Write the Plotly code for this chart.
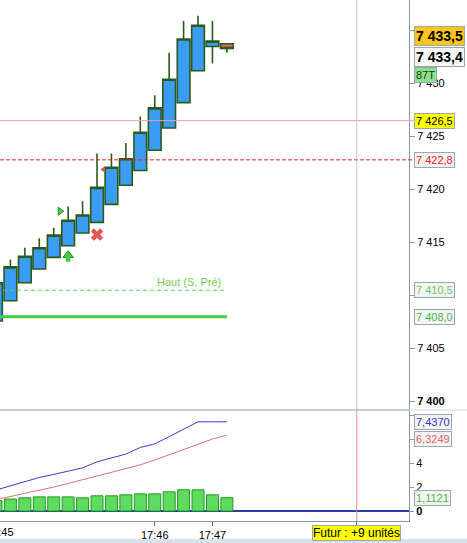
import plotly.graph_objects as go

# ---------------- data ----------------
idx = list(range(17))
opens  = [7407.6, 7409.5, 7411.2, 7412.5, 7413.6, 7414.7, 7415.9, 7416.9, 7418.6, 7420.4, 7421.8, 7423.7, 7425.8, 7428.2, 7431.2, 7433.5, 7433.75]
highs  = [7412.2, 7413.4, 7414.5, 7415.4, 7416.4, 7418.4, 7418.9, 7423.4, 7423.4, 7424.4, 7426.9, 7428.9, 7432.9, 7435.9, 7436.4, 7435.9, 7433.75]
lows   = [7407.6, 7409.5, 7411.2, 7412.5, 7413.6, 7414.7, 7415.9, 7416.9, 7418.6, 7420.4, 7421.8, 7423.7, 7425.8, 7428.2, 7431.2, 7431.9, 7432.9]
closes = [7411.2, 7412.7, 7413.7, 7414.5, 7415.7, 7417.1, 7417.6, 7420.2, 7422.1, 7422.9, 7425.4, 7427.7, 7430.4, 7434.2, 7435.5, 7434.0, 7433.3]

volume     = [0.88, 1.0, 1.1, 1.18, 1.18, 1.18, 1.1, 1.27, 1.27, 1.35, 1.43, 1.43, 1.6, 1.77, 1.77, 1.35, 1.1121]
line_blue  = [1.75, 2.1, 2.5, 2.8, 3.05, 3.35, 3.6, 4.1, 4.4, 4.75, 5.3, 5.6, 6.2, 6.8, 7.437, 7.437, 7.437]
line_red   = [0.95, 1.2, 1.45, 1.75, 2.0, 2.3, 2.6, 2.9, 3.2, 3.5, 3.85, 4.25, 4.7, 5.15, 5.6, 6.0, 6.3249]

time_tick_idx = [11, 15]
time_tick_labels = ["17:46", "17:47"]
first_time_idx = 0
first_time_label = "17:45"
future_idx = 25
future_label = "Futur : +9 unités"

price_ticks = [7400, 7405, 7410, 7415, 7420, 7425, 7430, 7435]
price_tick_text = ["<b>7 400</b>", "7 405", "", "7 415", "7 420", "7 425", "7 430", ""]
ind_ticks = [0, 2, 4, 6, 8]
ind_tick_text = ["<b>0</b>", "2", "4", "", ""]

level_start_idx = 0
level_end_idx = 16
level_high_prev = 7410.5
level_high_prev_label = "Haut (S, Pré)"
level_support = 7408.0
level_pink = 7426.5
level_red = 7422.8
ask_price = 7433.5
bid_price = 7433.4
bar_type_label = "87T"

sig_tri_x, sig_tri_y = [4.44], [7417.95]
sig_arrow_x, sig_arrow_y = [5], [7413.8]
sig_x_x, sig_x_y = [7], [7415.75]
sig_red_tri_x, sig_red_tri_y = [7.45], [7421.9]

x_range = [0.277, 28.62]
price_range = [7399.2, 7437.88]
ind_range = [-0.83, 8.42]

FONT = "Liberation Sans, Arial, sans-serif"
AX = "#8899a6"
split = 111 / 521

def x_to_paper(v):
    return (v - x_range[0]) / (x_range[1] - x_range[0])

fig = go.Figure()

fig.add_trace(go.Candlestick(
    x=idx, open=opens, high=highs, low=lows, close=closes,
    xaxis="x", yaxis="y", whiskerwidth=0, hoverinfo="skip", showlegend=False,
    increasing=dict(fillcolor="#3a9cf2", line=dict(color="#2b5a1e", width=1.6)),
    decreasing=dict(fillcolor="#e06666", line=dict(color="#2b5a1e", width=1.6)),
))

# level lines
fig.add_trace(go.Scatter(x=[level_start_idx, level_end_idx], y=[level_high_prev] * 2, mode="lines",
                         line=dict(color="#66cc66", width=1, dash="4px,3px"), xaxis="x", yaxis="y",
                         showlegend=False, hoverinfo="skip"))
fig.add_trace(go.Scatter(x=[level_start_idx, level_end_idx], y=[level_support] * 2, mode="lines",
                         line=dict(color="#44cc44", width=3), xaxis="x", yaxis="y",
                         showlegend=False, hoverinfo="skip"))

# signals
fig.add_trace(go.Scatter(x=sig_tri_x, y=sig_tri_y, mode="markers",
                         marker=dict(symbol="triangle-right", size=7, color="#44dd44",
                                     line=dict(color="#118811", width=1)),
                         xaxis="x", yaxis="y", showlegend=False, hoverinfo="skip"))
fig.add_trace(go.Scatter(x=sig_arrow_x, y=sig_arrow_y, mode="markers",
                         marker=dict(symbol="triangle-up", size=9, color="#44cc44",
                                     line=dict(color="#1f8f1f", width=1)),
                         xaxis="x", yaxis="y", showlegend=False, hoverinfo="skip"))
fig.add_trace(go.Scatter(x=sig_x_x, y=sig_x_y, mode="markers",
                         marker=dict(symbol="x", size=11, color="#e85555", line=dict(width=0)),
                         xaxis="x", yaxis="y", showlegend=False, hoverinfo="skip"))
fig.add_trace(go.Scatter(x=sig_red_tri_x, y=sig_red_tri_y, mode="markers",
                         marker=dict(symbol="triangle-left", size=6, color="#e05050"),
                         xaxis="x", yaxis="y", showlegend=False, hoverinfo="skip"))

# lower panel
fig.add_trace(go.Bar(x=idx, y=volume, xaxis="x2", yaxis="y2",
                     marker=dict(color="#5fdc5f", line=dict(color="#1f9a1f", width=1)),
                     showlegend=False, hoverinfo="skip"))
fig.add_trace(go.Scatter(x=idx, y=line_blue, mode="lines", line=dict(color="#3b3bdd", width=1),
                         xaxis="x2", yaxis="y2", showlegend=False, hoverinfo="skip"))
fig.add_trace(go.Scatter(x=idx, y=line_red, mode="lines", line=dict(color="#e07070", width=1),
                         xaxis="x2", yaxis="y2", showlegend=False, hoverinfo="skip"))

shapes = [
    dict(type="line", xref="paper", yref="paper", x0=0, x1=1, y0=split, y1=split,
         line=dict(color=AX, width=1)),
    dict(type="line", xref="paper", yref="paper", x0=1, x1=1.15, y0=split, y1=split,
         line=dict(color="#d4dae0", width=1)),
    dict(type="line", xref="paper", yref="y", x0=0, x1=1.012, y0=level_pink, y1=level_pink,
         line=dict(color="#f2a0a0", width=1)),
    dict(type="line", xref="paper", yref="y", x0=0, x1=1.012, y0=level_red, y1=level_red,
         line=dict(color="#e82020", width=1, dash="4px,2px")),
    dict(type="line", xref="x", yref="paper", x0=future_idx, x1=future_idx, y0=split, y1=1,
         line=dict(color="#c8c8c8", width=1)),
    dict(type="line", xref="x2", yref="paper", x0=future_idx, x1=future_idx, y0=0, y1=split,
         line=dict(color="#f08888", width=1)),
    dict(type="rect", xref="paper", yref="paper", x0=0, x1=1.15, y0=-0.0425, y1=-0.0345,
         fillcolor="#d9e1ea", line=dict(width=0)),
]

def tag(y, text, color, bg, yref="y", size=11, yshift=0, bold=False):
    return dict(x=1, xref="paper", y=y, yref=yref, xanchor="left", yanchor="middle",
                xshift=5, yshift=yshift, text=("<b>%s</b>" % text) if bold else text,
                showarrow=False, font=dict(family=FONT, size=size, color=color),
                bgcolor=bg, bordercolor="#9aa6b0", borderwidth=1, borderpad=1, align="left")

def fmt_price(v):
    s = "%.1f" % v
    a, b = s.split(".")
    return a[0] + " " + a[1:] + "," + b

def fmt_ind(v):
    return ("%.4f" % v).replace(".", ",")

annotations = [
    # arrow stem below the arrow head
    dict(x=sig_arrow_x[0], xref="x", y=sig_arrow_y[0], yref="y", ax=0, ay=8,
         text="", showarrow=True, arrowhead=0, arrowwidth=4.5, arrowcolor="#44cc44", standoff=0),
    tag(ask_price, fmt_price(ask_price), "black", "#ffc61a", size=14, yshift=10, bold=True),
    tag(bid_price, fmt_price(bid_price), "black", "#f7f7f7", size=14, yshift=-10, bold=True),
    tag(bid_price, bar_type_label, "#114411", "#8ee08e", size=11, yshift=-28),
    tag(level_pink, fmt_price(level_pink), "black", "#ffff00"),
    tag(level_red, fmt_price(level_red), "#ee2222", "#f2f2f2"),
    tag(level_high_prev, fmt_price(level_high_prev), "#66cc55", "#f4f4f4"),
    tag(level_support, fmt_price(level_support), "#44bb44", "#f4f4f4"),
    tag(line_blue[-1], fmt_ind(line_blue[-1]), "#3333dd", "#f4f4f4", yref="y2"),
    tag(line_red[-1], fmt_ind(line_red[-1]), "#e06060", "#f4f4f4", yref="y2", yshift=-4),
    tag(volume[-1], fmt_ind(volume[-1]), "#44bb44", "#f4f4f4", yref="y2"),
    dict(x=level_end_idx, xref="x", y=level_high_prev, yref="y", xanchor="right", yanchor="bottom",
         xshift=-4, yshift=0, text=level_high_prev_label, showarrow=False,
         font=dict(family=FONT, size=11, color="#77cc55")),
    dict(x=x_to_paper(first_time_idx), xref="paper", y=0, yref="paper", xanchor="right",
         xshift=20, yanchor="top", yshift=-3,
         text=first_time_label, showarrow=False, font=dict(family=FONT, size=11, color="black")),
    dict(x=future_idx, xref="x2", y=0, yref="paper", yanchor="top", yshift=-4,
         text=future_label, showarrow=False, font=dict(family=FONT, size=12, color="black"),
         bgcolor="#ffff00", bordercolor="#9aa6b0", borderwidth=1, borderpad=0),
]

fig.update_layout(
    width=467, height=543,
    margin=dict(l=0, r=58, t=0, b=22, autoexpand=False),
    paper_bgcolor="white", plot_bgcolor="white",
    font=dict(family=FONT, size=11, color="black"),
    boxgap=0.12, boxgroupgap=0, bargap=0.17,
    showlegend=False,
    shapes=shapes, annotations=annotations,
    xaxis=dict(domain=[0, 1], anchor="y", range=x_range, showticklabels=False, ticks="",
               showgrid=False, zeroline=False, showline=False, rangeslider=dict(visible=False),
               fixedrange=True),
    yaxis=dict(domain=[split, 1], anchor="x", side="right", range=price_range,
               tickvals=price_ticks, ticktext=price_tick_text, ticks="outside", ticklen=5,
               tickcolor=AX, showline=True, linecolor=AX, linewidth=1, showgrid=False,
               zeroline=False, tickfont=dict(size=11, color="black")),
    xaxis2=dict(domain=[0, 1], anchor="y2", range=x_range, tickvals=time_tick_idx + [future_idx],
                ticktext=time_tick_labels + [""], ticks="outside", ticklen=4, tickcolor="#666666",
                showline=True, linecolor=AX, showgrid=False, zeroline=False,
                tickfont=dict(size=11, color="black")),
    yaxis2=dict(domain=[0, split], anchor="x2", side="right", range=ind_range,
                tickvals=ind_ticks, ticktext=ind_tick_text, ticks="outside", ticklen=4,
                tickcolor=AX, showline=True, linecolor=AX, showgrid=False,
                zeroline=True, zerolinecolor="#2a3aa8", zerolinewidth=1.5,
                tickfont=dict(size=11, color="black")),
)

fig.write_html("out.html", config={"displayModeBar": False},
               post_script="document.body.style.margin='0';")
